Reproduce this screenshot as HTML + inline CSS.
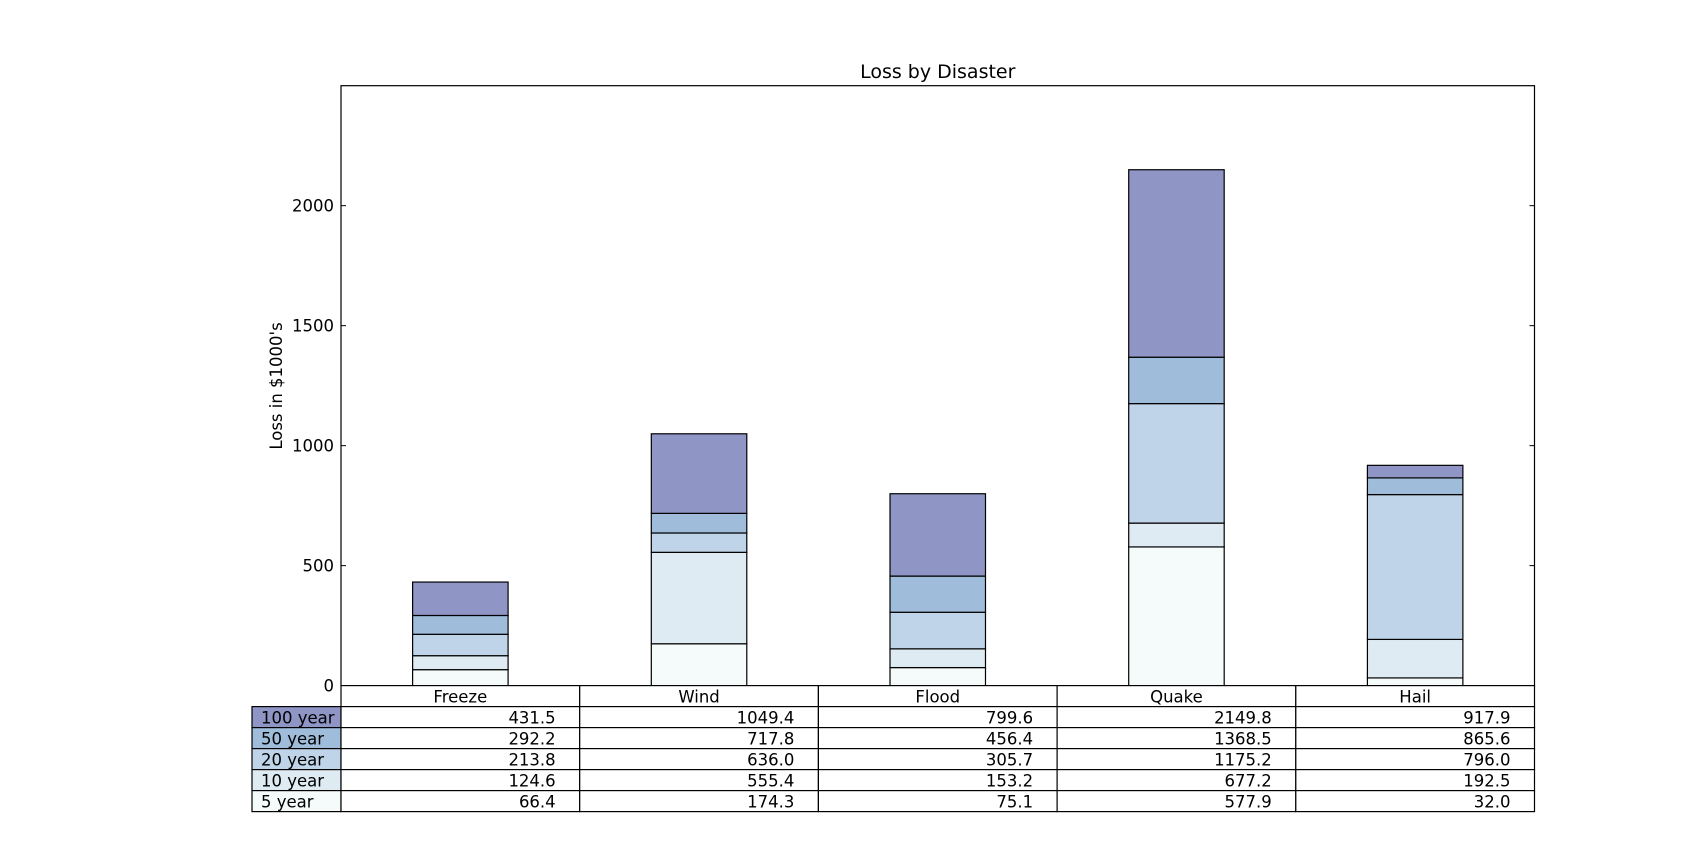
<!DOCTYPE html>
<html><head><meta charset="utf-8"><style>
html,body{margin:0;padding:0;background:#fff;}
svg{display:block;font-family:"DejaVu Sans","Liberation Sans",sans-serif;}
</style></head><body>
<svg id="chart" width="1705" height="857" viewBox="0 0 1705 857"></svg>
<script>
const categories = ["Freeze","Wind","Flood","Quake","Hail"];
const rowLabels = ["100 year","50 year","20 year","10 year","5 year"];
// cumulative totals as printed in the table
const t100 = [431.5,1049.4,799.6,2149.8,917.9];
const t50 = [292.2,717.8,456.4,1368.5,865.6];
const t20 = [213.8,636.0,305.7,1175.2,796.0];
const t10 = [124.6,555.4,153.2,677.2,192.5];
const t5 = [66.4,174.3,75.1,577.9,32.0];
const yTicks = [0,500,1000,1500,2000];
const colors = ["#f5fbfb","#deebf3","#bfd4e8","#9fbcdb","#8f96c6"];
const totals = [t5,t10,t20,t50,t100]; // bottom to top

const svg = document.getElementById('chart');
const NS = 'http://www.w3.org/2000/svg';
const L=341, R=1534.5, T=85.7, B=685.6, yMax=2500;
const colW=(R-L)/categories.length;
function y(v){return B-(v/yMax)*(B-T);}
function x(i){return L+(i+0.5)*colW;}
function mk(tag,attrs,parent){const e=document.createElementNS(NS,tag);for(const k in attrs)e.setAttribute(k,attrs[k]);(parent||svg).appendChild(e);return e;}

const title=mk('text',{x:(L+R)/2,y:78,'text-anchor':'middle','font-size':19});
title.textContent='Loss by Disaster';



const yl=mk('text',{x:0,y:0,'text-anchor':'middle','font-size':16.5,transform:'translate(282,386) rotate(-90)'});
yl.textContent="Loss in $1000's";



const bw=0.4*colW;
categories.forEach((c,i)=>{
  let prev=0;
  totals.forEach((s,k)=>{
    const top=s[i];
    const r=mk('rect',{x:x(i)-bw/2,y:y(top),width:bw,height:y(prev)-y(top),fill:colors[k],stroke:'#000','stroke-width':1.2});
    
    
    prev=top;
  });
});

const fr=mk('rect',{x:L,y:T,width:R-L,height:B-T,fill:'none',stroke:'#000','stroke-width':1.2});



yTicks.forEach(t=>{
  mk('line',{x1:L,x2:L+5,y1:y(t),y2:y(t),stroke:'#000'});
  mk('line',{x1:R-5,x2:R,y1:y(t),y2:y(t),stroke:'#000'});
  const tx=mk('text',{x:L-7,y:y(t)+6,'text-anchor':'end','font-size':16.5});
  tx.textContent=t;
  
  
});

const rh=21, LL=252;
const tbl=mk('g',{});


categories.forEach((c,i)=>{
  mk('rect',{x:L+i*colW,y:B,width:colW,height:rh,fill:'#fff',stroke:'#000','stroke-width':1.2},tbl);
  const t=mk('text',{x:x(i),y:B+rh-4,'text-anchor':'middle','font-size':16.5},tbl);
  t.textContent=c;
  
  
});
rowLabels.forEach((lab,r)=>{
  const yy=B+rh*(r+1);
  const s=totals[4-r];
  mk('rect',{x:LL,y:yy,width:L-LL,height:rh,fill:colors[4-r],stroke:'#000','stroke-width':1.2},tbl);
  const lt=mk('text',{x:LL+9,y:yy+rh-4,'font-size':16.5},tbl);
  lt.textContent=lab;
  
  
  categories.forEach((c,i)=>{
    mk('rect',{x:L+i*colW,y:yy,width:colW,height:rh,fill:'#fff',stroke:'#000','stroke-width':1.2},tbl);
    const vt=mk('text',{x:L+(i+1)*colW-24,y:yy+rh-4,'text-anchor':'end','font-size':16.5},tbl);
    vt.textContent=s[i].toFixed(1);
    
    
  });
});
</script>
</body></html>
